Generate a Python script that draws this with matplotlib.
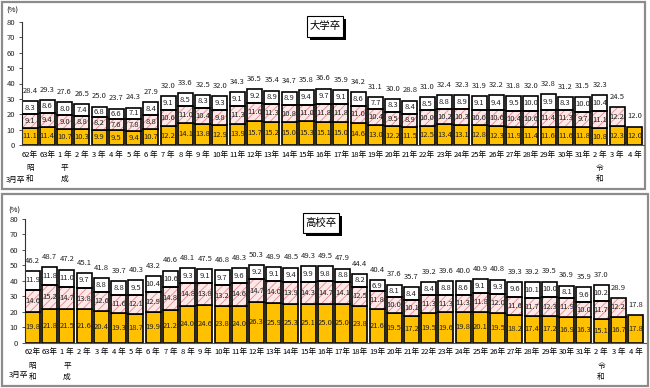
import numpy as np
import matplotlib
matplotlib.use('Agg')
import matplotlib.pyplot as plt
from matplotlib.patches import Rectangle

plt.rcParams['font.family'] = ['Noto Sans CJK JP', 'DejaVu Sans']
plt.rcParams['hatch.linewidth'] = 0.6

nan = np.nan

# 卒業年 (3月卒)
years = ['62年', '63年', '1 年', '2 年', '3 年', '4 年', '5 年', '6 年', '7 年', '8 年', '9 年',
         '10年', '11年', '12年', '13年', '14年', '15年', '16年', '17年', '18年', '19年', '20年',
         '21年', '22年', '23年', '24年', '25年', '26年', '27年', '28年', '29年', '30年', '31年',
         '2 年', '3 年', '4 年']
eras = {0: '昭\n和', 2: '平\n成', 33: '令\n和'}
yticks = [0, 10, 20, 30, 40, 50, 60, 70, 80]

# 大学卒
univ_base = [11.1, 11.4, 10.7, 10.3, 9.9, 9.5, 9.4, 10.7, 12.2, 14.1, 13.8, 12.9, 13.9, 15.7,
             15.2, 15.0, 15.3, 15.1, 15.0, 14.6, 13.0, 12.2, 11.5, 12.5, 13.4, 13.1, 12.8, 12.3,
             11.9, 11.4, 11.6, 11.6, 11.8, 10.8, 12.3, 12.0]
univ_mid = [9.1, 9.4, 9.0, 8.8, 8.2, 7.6, 7.8, 8.8, 10.6, 11.0, 10.4, 9.8, 11.3, 11.6, 11.3,
            10.8, 11.0, 11.8, 11.8, 11.0, 10.4, 9.5, 8.9, 10.0, 10.2, 10.3, 10.0, 10.6, 10.4,
            10.6, 11.4, 11.3, 9.7, 11.1, 12.2, nan]
univ_top = [8.3, 8.6, 8.0, 7.4, 6.8, 6.6, 7.1, 8.4, 9.1, 8.5, 8.3, 9.3, 9.1, 9.2, 8.9, 8.9,
            9.4, 9.7, 9.1, 8.6, 7.7, 8.3, 8.4, 8.5, 8.8, 8.9, 9.1, 9.4, 9.5, 10.0, 9.9, 8.3,
            10.0, 10.4, nan, nan]
univ_total = [28.4, 29.3, 27.6, 26.5, 25.0, 23.7, 24.3, 27.9, 32.0, 33.6, 32.5, 32.0, 34.3,
              36.5, 35.4, 34.7, 35.8, 36.6, 35.9, 34.2, 31.1, 30.0, 28.8, 31.0, 32.4, 32.3,
              31.9, 32.2, 31.8, 32.0, 32.8, 31.2, 31.5, 32.3, 24.5, 12.0]

# 高校卒
hs_base = [19.8, 21.8, 21.5, 21.6, 20.4, 19.3, 18.7, 19.9, 21.2, 24.0, 24.6, 23.8, 24.0, 26.3,
           25.9, 25.3, 25.1, 25.0, 25.0, 23.8, 21.6, 19.5, 17.2, 19.5, 19.6, 19.8, 20.1, 19.5,
           18.2, 17.4, 17.2, 16.9, 16.3, 15.1, 16.7, 17.8]
hs_mid = [14.6, 15.2, 14.7, 13.8, 12.6, 11.6, 12.1, 12.9, 14.8, 14.8, 13.8, 13.2, 14.6, 14.7,
          14.0, 13.9, 14.3, 14.7, 14.1, 12.5, 11.8, 10.0, 10.1, 11.3, 11.3, 11.3, 11.8, 12.0,
          11.6, 11.7, 12.3, 11.9, 10.0, 11.7, 12.2, nan]
hs_top = [11.9, 11.8, 11.0, 9.7, 8.8, 8.8, 9.5, 10.4, 10.6, 9.3, 9.1, 9.7, 9.6, 9.2, 9.1, 9.4,
          9.9, 9.8, 8.8, 8.2, 6.9, 8.1, 8.4, 8.4, 8.8, 8.6, 9.1, 9.3, 9.6, 10.1, 10.0, 8.1,
          9.6, 10.2, nan, nan]
hs_total = [46.2, 48.7, 47.2, 45.1, 41.8, 39.7, 40.3, 43.2, 46.6, 48.1, 47.5, 46.8, 48.3, 50.3,
            48.9, 48.5, 49.3, 49.5, 47.9, 44.4, 40.4, 37.6, 35.7, 39.2, 39.6, 40.0, 40.9, 40.8,
            39.3, 39.2, 39.5, 36.9, 35.9, 37.0, 28.9, 17.8]

W, H = 650, 388
fig = plt.figure(figsize=(W / 100, H / 100), dpi=100)


def fx(px):
    return px / W


def fy(py):
    return 1 - py / H


def frame(x0, y0, x1, y1):
    fig.add_artist(Rectangle((fx(x0), fy(y1)), fx(x1 - x0), (y1 - y0) / H,
                             transform=fig.transFigure, fill=False,
                             edgecolor='#8c8c8c', linewidth=1.6, zorder=-1))


def title_box(x0, y0, x1, y1, label):
    # shadow then white box
    fig.add_artist(Rectangle((fx(x0 + 3), fy(y1 + 3)), fx(x1 - x0), (y1 - y0) / H,
                             transform=fig.transFigure, facecolor='black', edgecolor='none'))
    fig.add_artist(Rectangle((fx(x0), fy(y1)), fx(x1 - x0), (y1 - y0) / H,
                             transform=fig.transFigure, facecolor='white',
                             edgecolor='black', linewidth=0.8))
    fig.text(fx((x0 + x1) / 2), fy((y0 + y1) / 2), label, ha='center', va='center',
             fontsize=7.5)


def panel(ax, base, mid, top, total, xlim):
    base = np.array(base, dtype=float)
    mid = np.array(mid, dtype=float)
    top = np.array(top, dtype=float)
    x = np.arange(len(years))
    w = 0.87
    hm = ~np.isnan(mid)
    ht = ~np.isnan(top)
    ax.bar(x, base, w, color='#FFC000', edgecolor='black', linewidth=1.2, zorder=2)
    ax.bar(x[hm], mid[hm], w, bottom=base[hm], color='#fce8e8', edgecolor='#e58a8a',
           hatch='////', linewidth=0, zorder=2)
    ax.bar(x[hm], mid[hm], w, bottom=base[hm], fill=False, edgecolor='black', linewidth=1.2,
           zorder=3)
    ax.bar(x[ht], top[ht], w, bottom=base[ht] + mid[ht], color='white', edgecolor='black',
           linewidth=1.2, zorder=2)

    for i in x:
        bottoms = [0, base[i], base[i] + np.nan_to_num(mid[i])]
        for b, v in zip(bottoms, [base[i], mid[i], top[i]]):
            if not np.isnan(v):
                ax.text(i, b + v / 2, f'{v:.1f}', ha='center', va='center', fontsize=5.5,
                        color='#222222', zorder=4)
        ax.annotate(f'{total[i]:.1f}', xy=(i, total[i]), xytext=(0, 4.5),
                    textcoords='offset points', ha='center', va='bottom', fontsize=5.5,
                    color='#222222')

    for i, lab in eras.items():
        ax.text(i, -0.185, lab[0], transform=ax.get_xaxis_transform(), ha='center',
                va='center', fontsize=5.5)
        ax.text(i, -0.275, lab[2], transform=ax.get_xaxis_transform(), ha='center',
                va='center', fontsize=5.5)

    ax.set_xlim(*xlim)
    ax.set_ylim(0, 80)
    ax.set_xticks(x)
    ax.set_xticklabels(years)
    ax.tick_params(axis='x', length=0, pad=4, labelsize=5.5)
    ax.set_yticks(yticks)
    ax.tick_params(axis='y', length=2, pad=3, labelsize=5.5, width=0.6, color='#333333',
                   labelcolor='#222222')
    for s in ['top', 'right']:
        ax.spines[s].set_visible(False)
    ax.spines['left'].set_linewidth(0.8)
    ax.spines['left'].set_color('#333333')
    ax.spines['bottom'].set_linewidth(0.8)
    ax.spines['bottom'].set_color('#555555')
    ax.patch.set_alpha(0)


# 上段: 大学卒
frame(2, 2, 645, 189)
ax1 = fig.add_axes([fx(22), fy(145), fx(622), 123 / H])
panel(ax1, univ_base, univ_mid, univ_top, univ_total, (-0.463, 35.55))
title_box(307, 16, 343, 37, '大学卒')
fig.text(fx(12.5), fy(11), '(%)', ha='center', va='center', fontsize=5.5)
fig.text(fx(25), fy(180), '3月卒', ha='right', va='center', fontsize=5.5)

# 下段: 高校卒
frame(2, 194, 648, 386)
ax2 = fig.add_axes([fx(25), fy(342.7), fx(621), 123.7 / H])
panel(ax2, hs_base, hs_mid, hs_top, hs_total, (-0.435, 35.61))
title_box(303, 213, 339, 233, '高校卒')
fig.text(fx(14), fy(211), '(%)', ha='center', va='center', fontsize=5.5)
fig.text(fx(28), fy(375), '3月卒', ha='right', va='center', fontsize=5.5)

fig.savefig('out.png', dpi=100)
